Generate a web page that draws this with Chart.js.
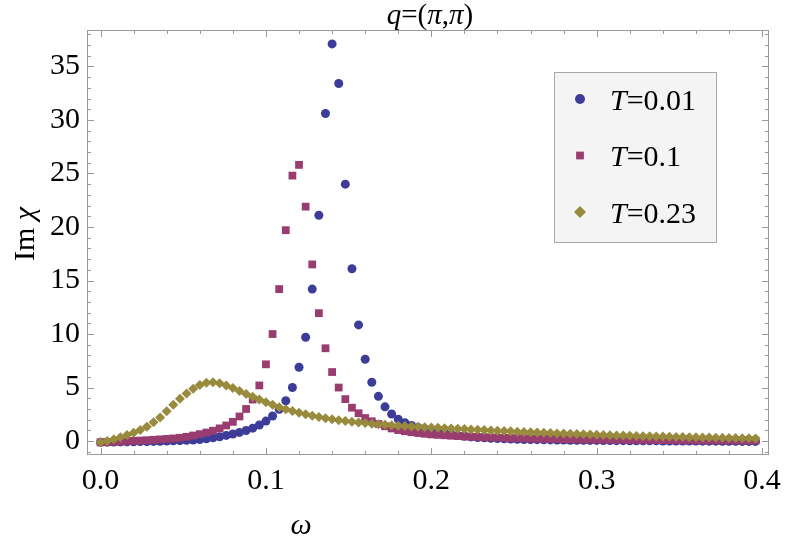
<!DOCTYPE html>
<html>
<head>
<meta charset="utf-8">
<script src="https://cdn.jsdelivr.net/npm/chart.js@4"></script>
<style>
  html, body { margin: 0; padding: 0; background: #fff; }
  #wrap { width: 789px; height: 551px; position: relative; }
</style>
</head>
<body>
<div id="wrap"><canvas id="chiChart"></canvas></div>
<script>
// frequency grid (omega)
const omega = [
    0, 0.004, 0.008, 0.012, 0.016, 0.02, 0.024, 0.028, 0.032, 0.036,
    0.04, 0.044, 0.048, 0.052, 0.056, 0.06, 0.064, 0.068, 0.072, 0.076,
    0.08, 0.084, 0.088, 0.092, 0.096, 0.1, 0.104, 0.108, 0.112, 0.116,
    0.12, 0.124, 0.128, 0.132, 0.136, 0.14, 0.144, 0.148, 0.152, 0.156,
    0.16, 0.164, 0.168, 0.172, 0.176, 0.18, 0.184, 0.188, 0.192, 0.196,
    0.2, 0.204, 0.208, 0.212, 0.216, 0.22, 0.224, 0.228, 0.232, 0.236,
    0.24, 0.244, 0.248, 0.252, 0.256, 0.26, 0.264, 0.268, 0.272, 0.276,
    0.28, 0.284, 0.288, 0.292, 0.296, 0.3, 0.304, 0.308, 0.312, 0.316,
    0.32, 0.324, 0.328, 0.332, 0.336, 0.34, 0.344, 0.348, 0.352, 0.356,
    0.36, 0.364, 0.368, 0.372, 0.376, 0.38, 0.384, 0.388, 0.392, 0.396
];

// Im chi, T = 0.01
const imChiT001 = [
    -0.12, -0.1, -0.09, -0.08, -0.07, -0.06, -0.05, -0.04, -0.03, -0.02,
    0.0, 0.02, 0.04, 0.07, 0.1, 0.15, 0.22, 0.31, 0.41, 0.53,
    0.66, 0.81, 0.99, 1.21, 1.5, 1.87, 2.34, 2.97, 3.77, 5.0,
    6.9, 9.7, 14.2, 21.1, 30.6, 37.1, 33.4, 24.0, 16.1, 10.85,
    7.64, 5.5, 4.18, 3.2, 2.53, 2.05, 1.71, 1.46, 1.27, 1.1,
    0.95, 0.82, 0.71, 0.61, 0.52, 0.45, 0.39, 0.34, 0.3, 0.26,
    0.23, 0.21, 0.19, 0.17, 0.15, 0.14, 0.13, 0.12, 0.11, 0.1,
    0.09, 0.08, 0.08, 0.07, 0.06, 0.06, 0.05, 0.05, 0.04, 0.04,
    0.03, 0.03, 0.02, 0.02, 0.02, 0.01, 0.01, 0.01, 0.0, 0.0,
    0.0, -0.01, -0.01, -0.01, -0.02, -0.02, -0.02, -0.03, -0.03, -0.03
];

// Im chi, T = 0.1
const imChiT01 = [
    -0.12, -0.1, -0.07, -0.04, -0.01, 0.02, 0.05, 0.08, 0.12, 0.16,
    0.2, 0.25, 0.31, 0.4, 0.52, 0.65, 0.8, 0.97, 1.19, 1.46,
    1.8, 2.3, 3.0, 3.88, 5.2, 7.17, 10.0, 14.2, 19.7, 24.8,
    25.8, 21.9, 16.5, 11.95, 8.67, 6.45, 5.0, 3.92, 3.12, 2.6,
    2.15, 1.85, 1.6, 1.38, 1.18, 1.03, 0.92, 0.83, 0.75, 0.68,
    0.62, 0.58, 0.54, 0.5, 0.47, 0.44, 0.41, 0.39, 0.36, 0.34,
    0.32, 0.3, 0.28, 0.27, 0.25, 0.24, 0.22, 0.21, 0.2, 0.19,
    0.18, 0.17, 0.16, 0.15, 0.15, 0.14, 0.13, 0.13, 0.12, 0.12,
    0.11, 0.11, 0.1, 0.1, 0.09, 0.09, 0.09, 0.08, 0.08, 0.08,
    0.07, 0.07, 0.07, 0.06, 0.06, 0.06, 0.06, 0.05, 0.05, 0.05
];

// Im chi, T = 0.23
const imChiT023 = [
    -0.12, 0.0, 0.16, 0.35, 0.56, 0.78, 1.03, 1.34, 1.75, 2.2,
    2.78, 3.4, 3.95, 4.45, 4.9, 5.24, 5.46, 5.5, 5.4, 5.2,
    4.96, 4.68, 4.4, 4.13, 3.88, 3.62, 3.4, 3.17, 2.97, 2.8,
    2.65, 2.5, 2.37, 2.25, 2.13, 2.03, 1.95, 1.87, 1.8, 1.74,
    1.68, 1.62, 1.57, 1.52, 1.48, 1.44, 1.4, 1.36, 1.33, 1.3,
    1.27, 1.24, 1.21, 1.18, 1.15, 1.12, 1.09, 1.06, 1.03, 1.0,
    0.97, 0.94, 0.91, 0.88, 0.85, 0.83, 0.8, 0.77, 0.75, 0.72,
    0.7, 0.68, 0.65, 0.63, 0.61, 0.59, 0.57, 0.55, 0.53, 0.51,
    0.5, 0.48, 0.46, 0.45, 0.43, 0.42, 0.4, 0.39, 0.38, 0.36,
    0.35, 0.34, 0.33, 0.31, 0.3, 0.29, 0.28, 0.27, 0.26, 0.25
];

const tempValues = ["0.01", "0.1", "0.23"];

const SERIF = "'Liberation Serif', 'Times New Roman', serif";
const FRAME = "#9a9a9a";
const colors = ["#3d3d99", "#993d71", "#998b3d"];
const styles = ["circle", "rect", "rectRot"];
const radii = [4.5, 5.5, 5];

function toPoints(ys) {
    return omega.map((w, i) => ({ x: w, y: ys[i] }));
}

// frame with inward ticks on all four sides
const frameTicks = {
    id: "frameTicks",
    beforeDatasetsDraw(chart) {
        const { ctx, chartArea: a, scales: { x, y } } = chart;
        ctx.save();
        ctx.strokeStyle = FRAME;
        ctx.lineWidth = 1;
        ctx.strokeRect(Math.round(a.left) + 0.5, Math.round(a.top) + 0.5,
            Math.round(a.right - a.left) - 1, Math.round(a.bottom - a.top) - 1);
        ctx.beginPath();
        for (let k = 0; k <= 20; k++) {
            const px = Math.round(x.getPixelForValue(k * 0.02)) + 0.5;
            const len = k % 5 === 0 ? 7 : 4;
            ctx.moveTo(px, a.bottom); ctx.lineTo(px, a.bottom - len);
            ctx.moveTo(px, a.top); ctx.lineTo(px, a.top + len);
        }
        for (let v = -1; v <= 38; v++) {
            const py = Math.round(y.getPixelForValue(v)) + 0.5;
            const len = v % 5 === 0 ? 7 : 4;
            ctx.moveTo(a.left, py); ctx.lineTo(a.left + len, py);
            ctx.moveTo(a.right, py); ctx.lineTo(a.right - len, py);
        }
        ctx.stroke();
        ctx.restore();
    }
};

// draw runs of [text, italic] side by side
function drawRuns(ctx, runs, x, y, size, align) {
    const widths = runs.map(([t, it]) => {
        ctx.font = (it ? "italic " : "") + size + "px " + SERIF;
        return ctx.measureText(t).width;
    });
    const total = widths.reduce((s, w) => s + w, 0);
    let cx = align === "center" ? x - total / 2 : x;
    runs.forEach(([t, it], i) => {
        ctx.font = (it ? "italic " : "") + size + "px " + SERIF;
        ctx.fillText(t, cx, y);
        cx += widths[i];
    });
}

const labelsAndLegend = {
    id: "labelsAndLegend",
    afterDraw(chart) {
        const ctx = chart.ctx;
        ctx.save();
        ctx.fillStyle = "#000";
        ctx.textAlign = "left";
        ctx.textBaseline = "alphabetic";

        // title
        drawRuns(ctx, [["q", true], ["=(", false], ["\u03c0", true], [",", false], ["\u03c0", true], [")", false]], 430, 24, 29, "center");

        // x axis title
        drawRuns(ctx, [["\u03c9", true]], 301, 534, 30, "center");

        // y axis title
        ctx.save();
        ctx.translate(34, 234);
        ctx.rotate(-Math.PI / 2);
        drawRuns(ctx, [["Im ", false], ["\u03c7", true]], 0, 0, 30, "center");
        ctx.restore();

        // legend box
        ctx.fillStyle = "#f4f4f4";
        ctx.fillRect(554.5, 72.5, 162, 170);
        ctx.strokeStyle = "#a8a8a8";
        ctx.lineWidth = 1;
        ctx.strokeRect(554.5, 72.5, 162, 170);

        const rowY = [99, 155.5, 212];
        const markR = [5, 5.5, 6];
        tempValues.forEach((t, i) => {
            ctx.fillStyle = colors[i];
            Chart.helpers.drawPoint(ctx, { pointStyle: styles[i], radius: markR[i], rotation: 0, borderWidth: 0 }, 580, rowY[i]);
            ctx.fillStyle = "#000";
            drawRuns(ctx, [["T", true], ["=" + t, false]], 610, rowY[i] + 10.5, 30, "left");
        });
        ctx.restore();
    }
};

new Chart(document.getElementById("chiChart"), {
    type: "scatter",
    data: {
        datasets: [imChiT001, imChiT01, imChiT023].map((ys, i) => ({
            label: "T=" + tempValues[i],
            data: toPoints(ys),
            pointStyle: styles[i],
            pointRadius: radii[i],
            pointHoverRadius: radii[i],
            pointBackgroundColor: colors[i],
            pointBorderWidth: 0,
            showLine: false,
            order: 3 - i
        }))
    },
    options: {
        responsive: true,
        maintainAspectRatio: false,
        animation: false,
        layout: { padding: { top: 30, right: 15, left: 0, bottom: 0 } },
        plugins: {
            legend: { display: false },
            tooltip: { enabled: false }
        },
        scales: {
            x: {
                type: "linear",
                min: -0.0082,
                max: 0.4041,
                grid: { display: false, drawTicks: false },
                border: { display: false },
                ticks: {
                    stepSize: 0.1,
                    includeBounds: false,
                    autoSkip: false,
                    maxRotation: 0,
                    padding: 8,
                    color: "#000",
                    font: { family: SERIF, size: 30 },
                    callback: v => v.toFixed(1)
                },
                afterFit(s) { s.height = 96; }
            },
            y: {
                type: "linear",
                min: -1.3,
                max: 38.4,
                grid: { display: false, drawTicks: false },
                border: { display: false },
                ticks: {
                    stepSize: 5,
                    includeBounds: false,
                    autoSkip: false,
                    padding: 7,
                    color: "#000",
                    font: { family: SERIF, size: 30 },
                    callback: v => String(v)
                },
                afterFit(s) { s.width = 87; }
            }
        }
    },
    plugins: [frameTicks, labelsAndLegend]
});
</script>
</body>
</html>
